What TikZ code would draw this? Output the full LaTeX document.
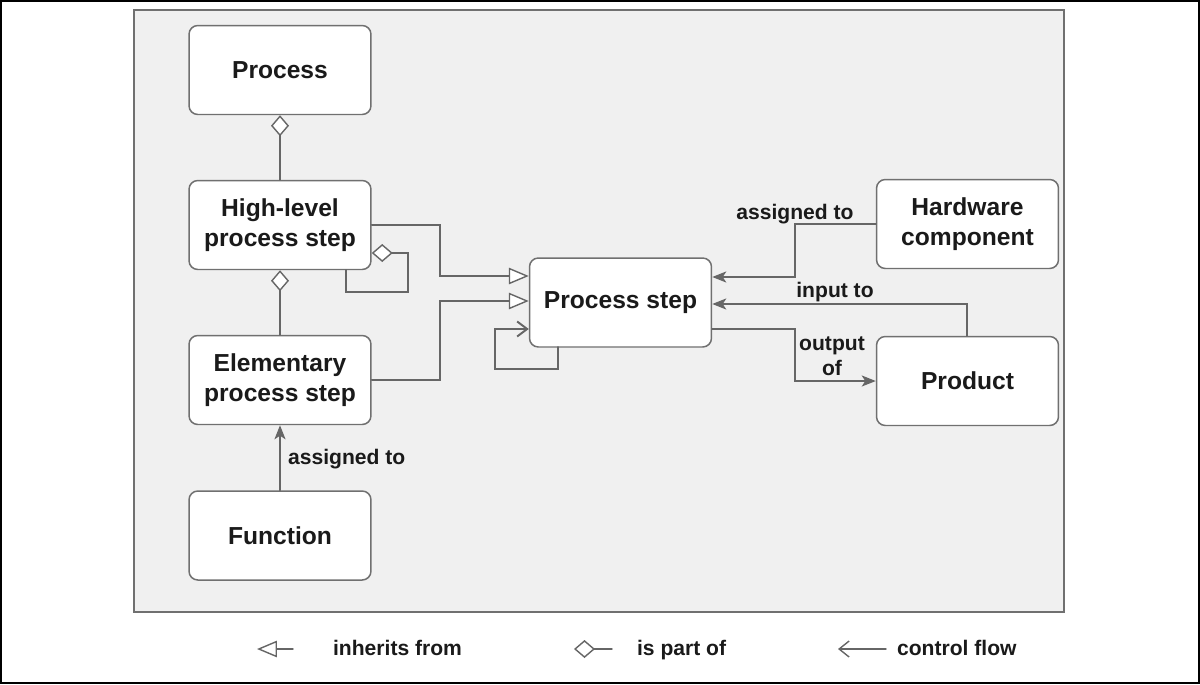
\documentclass[tikz,border=0pt]{standalone}
\usepackage{fontspec}
\setmainfont{Liberation Sans}
\usepackage{tikz}
\usetikzlibrary{arrows.meta}
\usepackage{xcolor}

\definecolor{panelgray}{HTML}{F0F0F0}
\definecolor{edgegray}{HTML}{707070}
\definecolor{linkgray}{HTML}{666666}
\definecolor{inkblack}{HTML}{1A1A1A}

\begin{document}
\begin{tikzpicture}[x=0.02cm,y=-0.02cm,line cap=round,
  block/.style={draw=edgegray,line width=0.85pt,fill=white,rounded corners=5pt,
    minimum width=3.64cm,minimum height=1.78cm,align=center,text=inkblack,
    font=\fontsize{14}{17}\selectfont\bfseries},
  link/.style={draw=linkgray,line width=1.1pt},
  lbl/.style={text=inkblack,font=\fontsize{12}{14}\selectfont\bfseries,inner sep=1pt},
  flow/.style={link,-{Stealth[length=2.8mm,width=2.2mm,inset=0.7mm]}},
  partof/.style={link,{Diamond[length=4.2mm,width=3.6mm,fill=white,line width=0.8pt]}-},
  inherits/.style={link,-{Triangle[length=4mm,width=3.3mm,fill=white,line width=0.8pt]}}]
\useasboundingbox (0,0) rectangle (1200,684);
\draw[black,line width=1.2pt] (1,1) rectangle (1199,683);
\draw[edgegray,fill=panelgray,line width=0.9pt] (134,10) rectangle (1064,612);

% boxes
\node[block] (proc) at (280,70) {Process};
\node[block] (high) at (280,225) {High-level\\process step};
\node[block] (elem) at (280,380) {Elementary\\process step};
\node[block] (func) at (280,535.5) {Function};
\node[block] (step) at (620.5,302.5) {Process step};
\node[block] (hw) at (967.5,224) {Hardware\\component};
\node[block] (prod) at (967.5,381) {Product};

% is part of
\draw[partof] (proc.south) -- (high.north);
\draw[partof] (high.south) -- (elem.north);
\draw[partof] (high.east |- 0,253) -- (408,253) -- (408,292) -- (346,292) -- (346,270);

% inherits from
\draw[inherits] (high.east) -- (440,225) -- (440,276) -- (step.west |- 0,276);
\draw[inherits] (elem.east) -- (440,380) -- (440,301) -- (step.west |- 0,301);

% control flow
\draw[link,-{Straight Barb[length=2mm,width=3mm]}] (558,347) -- (558,369) -- (495,369) -- (495,329) -- (step.west |- 0,329);
\draw[flow] (func.north) -- (elem.south);
\node[lbl,anchor=west] (lblfunc) at (286,459) {assigned to};
\draw[flow] (hw.west) -- (795,224) -- (795,277) -- (step.east |- 0,277);
\node[lbl] (lblhw) at (795,214) {assigned to};
\draw[flow] (prod.north -| 967,0) -- (967,304) -- (step.east |- 0,304);
\node[lbl] (lblin) at (835,292) {input to};
\draw[flow] (step.east |- 0,329) -- (795,329) -- (795,381) -- (prod.west);
\node[lbl,align=center] (lblout) at (832,356.5) {output\\of};

% legend
\draw[inherits,line width=0.8pt] (293,649) -- (257,649);
\node[lbl,anchor=base west] (leginh) at (331,655) {inherits from};
\draw[partof,line width=0.8pt] (574,649) -- (612,649);
\node[lbl,anchor=base west] (legpart) at (635,655) {is part of};
\draw[link,line width=0.8pt,-{Straight Barb[length=2mm,width=3.2mm]}] (886,649) -- (838,649);
\node[lbl,anchor=base west] (legflow) at (895,655) {control flow};
\end{tikzpicture}
\end{document}
